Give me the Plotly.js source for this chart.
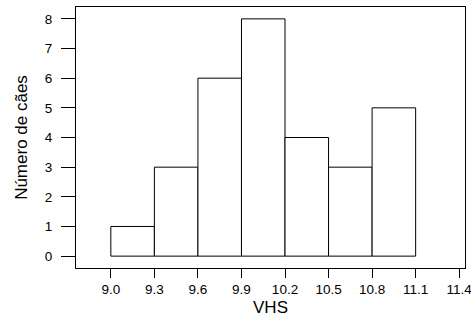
<!DOCTYPE html>
<html><head><meta charset="utf-8">
<script src="https://cdn.plot.ly/plotly-3.0.1.min.js"></script>
<style>body{margin:0;background:#fff}#c{width:471px;height:323px}</style>
</head><body><div id="c"></div>
<script>
const binStarts = [9.0, 9.3, 9.6, 9.9, 10.2, 10.5, 10.8];
const binWidth = 0.3;
const counts = [1, 3, 6, 8, 4, 3, 5];
const xTicks = [9.0, 9.3, 9.6, 9.9, 10.2, 10.5, 10.8, 11.1, 11.4];
const yTicks = [0, 1, 2, 3, 4, 5, 6, 7, 8];

const trace = {
  type: 'bar',
  x: binStarts.map(s => s + binWidth / 2),
  y: counts,
  width: binStarts.map(() => binWidth),
  marker: {color: '#ffffff', line: {color: '#000000', width: 1}},
  hoverinfo: 'skip'
};
const fam = 'Liberation Sans, Arial, sans-serif';
const tickFont = {family: fam, size: 13.5, color: '#000'};
const titleFont = {family: fam, size: 17, color: '#000'};
const layout = {
  width: 471, height: 323,
  margin: {l: 76, r: 6, t: 7, b: 55},
  paper_bgcolor: '#fff', plot_bgcolor: '#fff',
  showlegend: false,
  font: tickFont,
  xaxis: {
    range: [8.76, 11.44], tickvals: xTicks, ticktext: xTicks.map(v => v.toFixed(1)),
    ticks: 'outside', ticklen: 9, tickcolor: '#000', tickwidth: 1,
    ticklabeloverflow: 'allow',
    showline: true, linecolor: '#000', linewidth: 1, mirror: true,
    showgrid: false, zeroline: false,
    tickfont: tickFont,
    title: {text: 'VHS', font: titleFont, standoff: 4}
  },
  yaxis: {
    range: [-0.4, 8.4], tickvals: yTicks,
    ticks: 'outside', ticklen: 14, tickcolor: '#000', tickwidth: 1,
    ticklabelstandoff: 6,
    showline: true, linecolor: '#000', linewidth: 1, mirror: true,
    showgrid: false, zeroline: false,
    tickfont: tickFont,
    title: {text: 'Número de cães', font: titleFont, standoff: 12}
  }
};
Plotly.newPlot('c', [trace], layout, {staticPlot: true, displayModeBar: false});
</script></body></html>
